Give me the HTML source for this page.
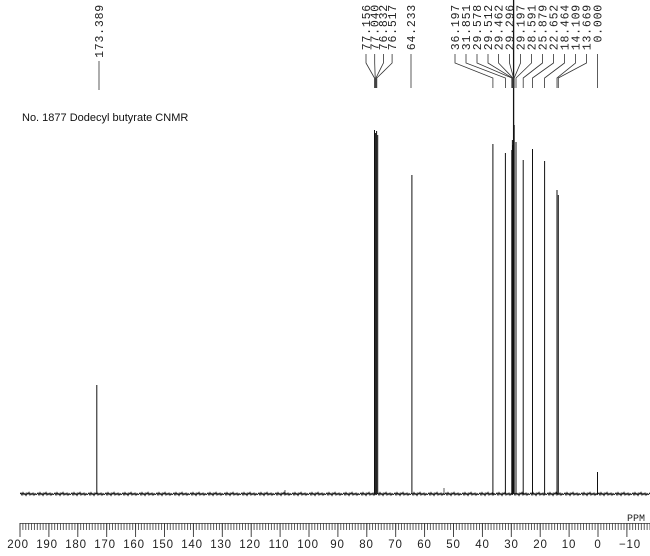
<!DOCTYPE html>
<html><head><meta charset="utf-8"><style>
html,body{margin:0;padding:0;background:#fff;}
svg{display:block;}
.lab{font-family:"Liberation Mono",monospace;font-size:11.5px;fill:#222;letter-spacing:0.8px;}
.ax{font-family:"Liberation Sans",sans-serif;font-size:11.5px;fill:#222;letter-spacing:0.8px;}
</style></head><body>
<svg width="650" height="556" viewBox="0 0 650 556" xmlns="http://www.w3.org/2000/svg">
<defs>
<pattern id="mt" x="19.5" y="523" width="2.89" height="8" patternUnits="userSpaceOnUse">
<line x1="0.5" y1="0" x2="0.5" y2="7" stroke="#333" stroke-width="0.8"/>
</pattern>
<pattern id="nz" x="20" y="490" width="17" height="8" patternUnits="userSpaceOnUse">
<path d="M0 4 L1 3 L2 5 L3 2.6 L4 4.6 L5 3.4 L6 5.4 L7 3 L8 4.2 L9 2.4 L10 5 L11 3.4 L12 4.6 L13 3 L14 5.2 L15 3.5 L16 4.6 L17 4" fill="none" stroke="#111" stroke-width="1"/>
</pattern>
</defs>
<rect width="650" height="556" fill="#fff"/>

<text x="22" y="121" font-family="Liberation Sans, sans-serif" font-size="11" fill="#111">No. 1877 Dodecyl butyrate CNMR</text>

<!-- baseline noise -->
<rect x="20" y="490" width="630" height="8" fill="url(#nz)"/>
<line x1="444" y1="494" x2="444" y2="488" stroke="#333" stroke-width="0.8"/>
<line x1="285" y1="494" x2="285" y2="490" stroke="#333" stroke-width="0.8"/>

<!-- peaks -->
<g stroke="#111" stroke-width="1">
<line x1="96.8" y1="385" x2="96.8" y2="494"/>
<line x1="374.5" y1="130" x2="374.5" y2="494"/>
<line x1="375.6" y1="133" x2="375.6" y2="494"/>
<line x1="376.6" y1="131" x2="376.6" y2="494"/>
<line x1="377.7" y1="135" x2="377.7" y2="494"/>
<line x1="411.9" y1="175" x2="411.9" y2="494"/>
<line x1="492.9" y1="144" x2="492.9" y2="494"/>
<line x1="505.4" y1="153" x2="505.4" y2="494"/>
<line x1="511.8" y1="150" x2="511.8" y2="494"/>
<line x1="512.4" y1="140" x2="512.4" y2="494"/>
<line x1="513.0" y1="145" x2="513.0" y2="494"/>
<line x1="513.6" y1="0" x2="513.6" y2="494" stroke-width="1.3"/>
<line x1="514.2" y1="125" x2="514.2" y2="494"/>
<line x1="516.0" y1="142" x2="516.0" y2="494"/>
<line x1="523.2" y1="160" x2="523.2" y2="494"/>
<line x1="532.5" y1="149" x2="532.5" y2="494"/>
<line x1="544.6" y1="161" x2="544.6" y2="494"/>
<line x1="557.0" y1="190" x2="557.0" y2="494"/>
<line x1="558.3" y1="195" x2="558.3" y2="494"/>
<line x1="597.5" y1="472" x2="597.5" y2="494"/>
</g>

<!-- leaders -->
<g fill="none" stroke="#333" stroke-width="0.8">
<polyline points="99,61 99,90"/>
<polyline points="366,54 366,63 374.5,78 374.5,88"/>
<polyline points="374.7,54 374.7,63 375.2,78 375.2,88"/>
<polyline points="383.4,54 383.4,63 376,78 376,88"/>
<polyline points="392.1,54 392.1,63 376.8,78 376.8,88"/>
<polyline points="411,54 411,88"/>
<polyline points="455,54 455,63 492.9,78 492.9,88"/>
<polyline points="466,54 466,63 505.4,78 505.4,88"/>
<polyline points="477,54 477,63 511.8,78 511.8,88"/>
<polyline points="488,54 488,63 512.4,78 512.4,88"/>
<polyline points="498.5,54 498.5,63 513,78 513,88"/>
<polyline points="509.5,54 509.5,63 513.6,78 513.6,88"/>
<polyline points="520.5,54 520.5,63 514.2,78 514.2,88"/>
<polyline points="531.5,54 531.5,63 516,78 516,88"/>
<polyline points="542.5,54 542.5,63 523.2,78 523.2,88"/>
<polyline points="553.5,54 553.5,63 532.5,78 532.5,88"/>
<polyline points="564.5,54 564.5,63 544.6,78 544.6,88"/>
<polyline points="575.5,54 575.5,63 557,78 557,88"/>
<polyline points="586.5,54 586.5,63 558.3,78 558.3,88"/>
<polyline points="597.5,54 597.5,88"/>
</g>

<!-- peak labels (top-aligned) -->
<g class="lab" text-anchor="end">
<text transform="translate(102.8 4) rotate(-90)">173.389</text>
<text transform="translate(369.8 4) rotate(-90)">77.156</text>
<text transform="translate(378.5 4) rotate(-90)">77.040</text>
<text transform="translate(387.2 4) rotate(-90)">76.832</text>
<text transform="translate(395.9 4) rotate(-90)">76.517</text>
<text transform="translate(414.8 4) rotate(-90)">64.233</text>
<text transform="translate(458.8 4) rotate(-90)">36.197</text>
<text transform="translate(469.8 4) rotate(-90)">31.851</text>
<text transform="translate(480.8 4) rotate(-90)">29.578</text>
<text transform="translate(491.8 4) rotate(-90)">29.512</text>
<text transform="translate(502.3 4) rotate(-90)">29.462</text>
<text transform="translate(513.3 4) rotate(-90)">29.296</text>
<text transform="translate(524.3 4) rotate(-90)">29.197</text>
<text transform="translate(535.3 4) rotate(-90)">28.591</text>
<text transform="translate(546.3 4) rotate(-90)">25.879</text>
<text transform="translate(557.3 4) rotate(-90)">22.652</text>
<text transform="translate(568.3 4) rotate(-90)">18.464</text>
<text transform="translate(579.3 4) rotate(-90)">14.109</text>
<text transform="translate(590.3 4) rotate(-90)">13.669</text>
<text transform="translate(601.3 4) rotate(-90)">0.000</text>
</g>

<!-- ruler -->
<line x1="19.5" y1="523.5" x2="650" y2="523.5" stroke="#333" stroke-width="0.8"/>
<rect x="19" y="523" width="631" height="7" fill="url(#mt)"/>
<g stroke="#333" stroke-width="0.9">
<line x1="20" y1="523" x2="20" y2="537"/>
<line x1="48.9" y1="523" x2="48.9" y2="537"/>
<line x1="77.8" y1="523" x2="77.8" y2="537"/>
<line x1="106.7" y1="523" x2="106.7" y2="537"/>
<line x1="135.6" y1="523" x2="135.6" y2="537"/>
<line x1="164.5" y1="523" x2="164.5" y2="537"/>
<line x1="193.4" y1="523" x2="193.4" y2="537"/>
<line x1="222.3" y1="523" x2="222.3" y2="537"/>
<line x1="251.2" y1="523" x2="251.2" y2="537"/>
<line x1="280.1" y1="523" x2="280.1" y2="537"/>
<line x1="309" y1="523" x2="309" y2="537"/>
<line x1="337.9" y1="523" x2="337.9" y2="537"/>
<line x1="366.8" y1="523" x2="366.8" y2="537"/>
<line x1="395.7" y1="523" x2="395.7" y2="537"/>
<line x1="424.6" y1="523" x2="424.6" y2="537"/>
<line x1="453.5" y1="523" x2="453.5" y2="537"/>
<line x1="482.4" y1="523" x2="482.4" y2="537"/>
<line x1="511.3" y1="523" x2="511.3" y2="537"/>
<line x1="540.2" y1="523" x2="540.2" y2="537"/>
<line x1="569.1" y1="523" x2="569.1" y2="537"/>
<line x1="598" y1="523" x2="598" y2="537"/>
<line x1="626.9" y1="523" x2="626.9" y2="537"/>
</g>
<text x="636" y="521" font-family="Liberation Mono, monospace" font-size="10" fill="#222" text-anchor="middle">PPM</text>
<g class="ax" text-anchor="middle">
<text x="18" y="548">200</text>
<text x="47" y="548">190</text>
<text x="76" y="548">180</text>
<text x="105" y="548">170</text>
<text x="134" y="548">160</text>
<text x="163" y="548">150</text>
<text x="192" y="548">140</text>
<text x="221" y="548">130</text>
<text x="250" y="548">120</text>
<text x="279" y="548">110</text>
<text x="308" y="548">100</text>
<text x="337.5" y="548">90</text>
<text x="366.5" y="548">80</text>
<text x="395.5" y="548">70</text>
<text x="424.5" y="548">60</text>
<text x="453.5" y="548">50</text>
<text x="482.5" y="548">40</text>
<text x="511.5" y="548">30</text>
<text x="540.5" y="548">20</text>
<text x="569" y="548">10</text>
<text x="598" y="548">0</text>
<text x="630" y="548">−10</text>
</g>
</svg>
</body></html>
